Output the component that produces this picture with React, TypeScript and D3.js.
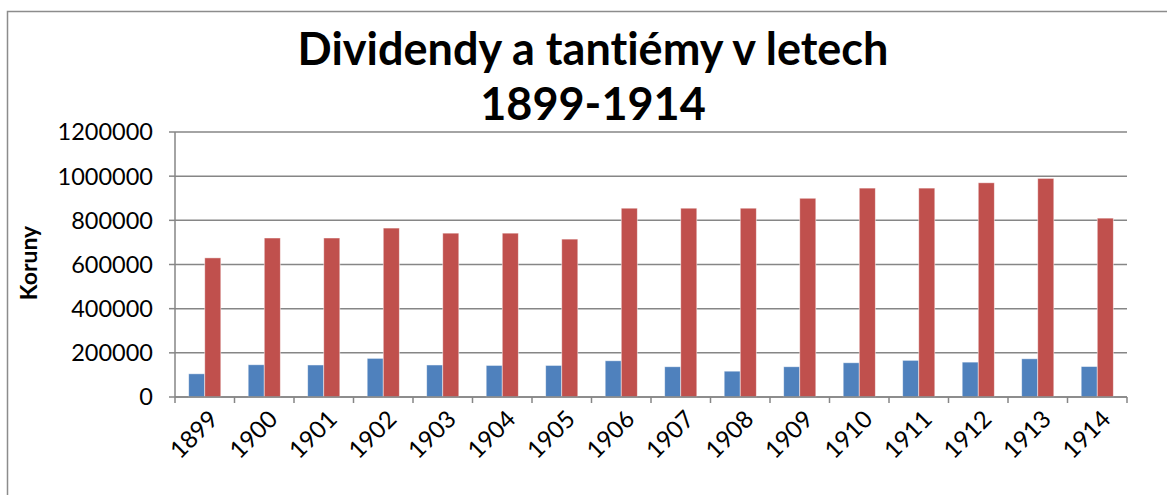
import React from "react";
import * as d3 from "d3";

const years = ["1899","1900","1901","1902","1903","1904","1905","1906","1907","1908","1909","1910","1911","1912","1913","1914"];
const dividendy = [105000,146000,145000,175000,145000,143000,143000,164000,137000,117000,137000,155000,166000,158000,173000,138000];
const tantiemy = [630000,720000,720000,765000,742000,742000,715000,855000,855000,855000,900000,946000,946000,970000,990000,810000];
const yTicks = [0,200000,400000,600000,800000,1000000,1200000];
const seriesColors = ["#4F81BD", "#C0504D"];

const W = 1167, H = 495;
const plot = { left: 175, right: 1127, top: 132, bottom: 397 };
const FONT = "Lato, 'Open Sans', sans-serif";

export default function App() {
  const x0 = d3.scaleBand<string>().domain(years).range([plot.left, plot.right]).paddingInner(0.46).paddingOuter(0.23);
  const x1 = d3.scaleBand<string>().domain(["d", "t"]).range([0, x0.bandwidth()]);
  const y = d3.scaleLinear().domain([0, 1200000]).range([plot.bottom, plot.top]);
  const step = (plot.right - plot.left) / years.length;
  const tickXs = d3.range(years.length + 1).map((i) => plot.left + i * step);
  const series = [dividendy, tantiemy];

  return (
    <div style={{ position: "absolute", left: 0, top: 0 }}>
      <svg width={W} height={H} style={{ display: "block", background: "#fff", fontVariantLigatures: "none" }}>
        <rect x={7.5} y={11.5} width={1300} height={700} fill="#fff" stroke="#8c8c8c" strokeWidth={1.5} />
        <text x={593} y={65} textAnchor="middle" fontFamily={FONT} fontWeight="bold" fontSize={45} fill="#000">Dividendy a tantiémy v letech</text>
        <text x={593} y={120} textAnchor="middle" fontFamily={FONT} fontWeight="bold" fontSize={45} fill="#000">1899-1914</text>
        {yTicks.map((t) => (
          <g key={t}>
            <line x1={plot.left} x2={plot.right} y1={y(t)} y2={y(t)} stroke="#868686" strokeWidth={1.5} />
            <line x1={plot.left - 6} x2={plot.left} y1={y(t)} y2={y(t)} stroke="#868686" strokeWidth={1.5} />
            <text x={153} y={y(t)} dy="0.36em" textAnchor="end" fontFamily={FONT} fontSize={23.5} fill="#000">{t}</text>
          </g>
        ))}
        <line x1={plot.left} x2={plot.left} y1={plot.top} y2={plot.bottom} stroke="#868686" strokeWidth={1.5} />
        {tickXs.map((tx, i) => (
          <line key={i} x1={tx} x2={tx} y1={plot.bottom} y2={plot.bottom + 6} stroke="#868686" strokeWidth={1.5} />
        ))}
        {years.map((yr, i) => (
          <g key={yr} transform={`translate(${x0(yr)},0)`}>
            {series.map((s, j) => (
              <rect key={j} x={x1(j === 0 ? "d" : "t")} y={y(s[i])} width={x1.bandwidth()} height={plot.bottom - y(s[i])}
                fill={seriesColors[j]} stroke="#ffffff" strokeOpacity={0.6} strokeWidth={0.8} />
            ))}
          </g>
        ))}
        <line x1={plot.left} x2={plot.right} y1={plot.bottom} y2={plot.bottom} stroke="#868686" strokeWidth={1.5} />
        {years.map((yr) => {
          const cx = (x0(yr) as number) + x0.bandwidth() / 2 + 2;
          return (
            <text key={yr} transform={`translate(${cx},${408}) rotate(-45)`} textAnchor="end" dy="0.75em" fontFamily={FONT} fontSize={24} fill="#000">{yr}</text>
          );
        })}
        <text transform={`translate(37,263) rotate(-90)`} textAnchor="middle" fontFamily={FONT} fontWeight="bold" fontSize={23} fill="#000">Koruny</text>
      </svg>
    </div>
  );
}
